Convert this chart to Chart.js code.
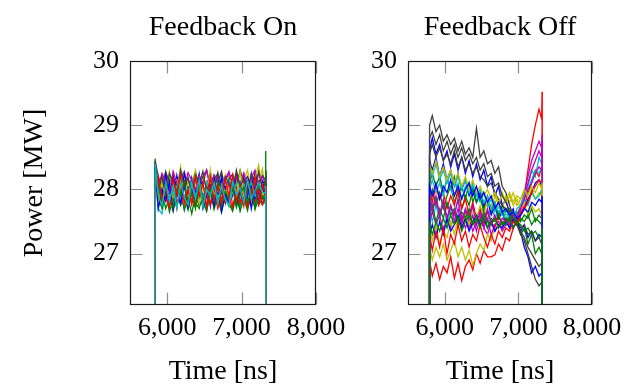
<!DOCTYPE html>
<html>
<head>
<meta charset="utf-8">
<script src="https://cdn.jsdelivr.net/npm/chart.js@4"></script>
<style>
  html, body { margin: 0; padding: 0; background: #fff; }
  #wrap { position: relative; width: 635px; height: 386px; overflow: hidden; }
  canvas { position: absolute; top: 0; }
  #cOn { left: 0; }
  #cOff { left: 318px; }
</style>
</head>
<body>
<div id="wrap">
  <canvas id="cOn" width="360" height="386"></canvas>
  <canvas id="cOff" width="317" height="386"></canvas>
</div>
<script>
// ---------------- DATA ----------------
const xTicks = [6000, 7000, 8000];
const yTicks = [27, 28, 29, 30];

// Feedback On: time samples [ns]
const timeOn = [5833, 5838, 5880, 5930, 5980, 6030, 6080, 6130, 6180, 6230, 6280, 6330, 6380, 6430, 6480, 6530, 6580, 6630, 6680, 6730, 6780, 6830, 6880, 6930, 6980, 7030, 7080, 7130, 7180, 7230, 7280, 7318, 7324, 7328];

const on1 = [25.6, 28.42, 27.78, 28.2, 27.9, 28.12, 27.75, 28.22, 27.92, 28.05, 27.8, 28.18, 27.95, 28.24, 27.82, 28.1, 27.74, 28.2, 27.9, 28.16, 27.8, 28.22, 27.96, 28.06, 27.76, 28.18, 27.88, 28.24, 27.82, 28.1, 27.92, 28.05, 28.2, 25.6];
const on2 = [25.6, 28.48, 27.72, 27.95, 27.7, 27.88, 27.66, 27.98, 27.75, 27.9, 27.68, 27.96, 27.8, 27.7, 27.92, 27.74, 28.0, 27.69, 27.9, 27.72, 27.97, 27.78, 27.66, 27.92, 27.7, 27.86, 27.67, 27.95, 27.74, 27.9, 27.8, 27.85, 28.6, 25.6];
const on3 = [25.6, 28.1, 27.85, 27.72, 28.05, 27.8, 27.95, 27.7, 28.1, 27.82, 27.74, 27.98, 27.78, 28.08, 27.72, 27.9, 27.76, 28.02, 27.7, 27.88, 27.8, 28.12, 27.74, 27.92, 27.78, 28.0, 27.72, 27.86, 28.06, 27.75, 27.9, 27.8, 28.0, 25.6];
const on4 = [25.6, 28.2, 27.7, 27.62, 27.98, 27.8, 28.05, 27.75, 27.95, 27.68, 28.02, 27.85, 27.72, 28.0, 27.8, 27.66, 27.95, 27.78, 28.04, 27.7, 27.9, 27.74, 28.0, 27.82, 27.68, 27.96, 27.76, 28.02, 27.72, 27.88, 27.8, 27.78, 28.0, 25.6];
const on5 = [25.6, 28.25, 28.15, 27.98, 28.25, 28.05, 28.2, 27.96, 28.18, 28.28, 28.0, 28.12, 28.22, 27.98, 28.15, 28.06, 28.26, 28.0, 28.2, 27.95, 28.14, 28.24, 28.02, 28.18, 27.97, 28.22, 28.08, 28.15, 27.99, 28.25, 28.1, 28.05, 28.15, 25.6];
const on6 = [25.6, 28.3, 27.8, 28.2, 28.0, 28.28, 27.9, 28.15, 28.05, 28.25, 27.85, 28.1, 28.3, 27.95, 28.18, 28.02, 28.22, 27.88, 28.12, 28.27, 27.98, 28.2, 28.05, 28.25, 27.92, 28.15, 28.3, 27.96, 28.2, 28.1, 28.32, 28.0, 28.2, 25.6];
const on7 = [25.6, 28.45, 28.2, 28.05, 28.28, 28.1, 28.22, 28.0, 28.3, 28.12, 28.18, 27.98, 28.26, 28.08, 28.2, 28.3, 28.02, 28.22, 28.1, 28.28, 28.0, 28.16, 28.24, 28.06, 28.3, 28.12, 28.2, 27.98, 28.25, 28.1, 28.22, 28.15, 28.3, 25.6];
const on8 = [25.6, 28.3, 28.1, 27.85, 28.22, 27.95, 28.18, 28.05, 27.82, 28.25, 28.0, 28.15, 27.88, 28.2, 28.05, 27.92, 28.24, 28.1, 27.86, 28.2, 28.02, 28.15, 27.9, 28.22, 28.08, 27.84, 28.18, 28.04, 28.24, 27.94, 28.12, 28.1, 28.2, 25.6];
const on9 = [25.6, 28.0, 27.9, 27.7, 27.95, 27.65, 27.85, 27.75, 27.98, 27.68, 27.88, 27.62, 27.92, 27.74, 27.84, 27.66, 27.96, 27.72, 27.88, 27.64, 27.9, 27.78, 27.7, 27.95, 27.66, 27.86, 27.72, 27.98, 27.7, 27.84, 27.76, 27.9, 28.1, 25.6];
const on10 = [25.6, 27.9, 27.95, 27.78, 27.88, 27.72, 28.02, 27.8, 27.92, 27.75, 27.98, 27.84, 27.73, 27.96, 27.82, 28.04, 27.76, 27.9, 27.74, 27.98, 27.8, 27.86, 27.72, 28.0, 27.78, 27.94, 27.74, 27.88, 27.8, 28.0, 27.76, 27.85, 27.95, 25.6];
const on11 = [25.6, 28.15, 27.95, 28.08, 27.88, 28.12, 27.92, 28.05, 27.86, 28.1, 27.98, 28.14, 27.9, 28.06, 27.85, 28.12, 27.96, 28.08, 27.88, 28.04, 27.92, 28.15, 27.94, 28.1, 27.87, 28.06, 27.95, 28.12, 27.9, 28.08, 27.98, 28.02, 28.1, 25.6];
const on12 = [25.6, 28.3, 28.05, 28.25, 28.12, 27.98, 28.28, 28.1, 28.2, 28.02, 28.26, 28.14, 28.0, 28.22, 28.08, 28.3, 28.04, 28.18, 28.24, 27.99, 28.16, 28.28, 28.06, 28.2, 28.1, 28.26, 28.0, 28.18, 28.3, 28.08, 28.2, 28.1, 28.25, 25.6];
const on13 = [25.6, 28.05, 27.75, 28.1, 27.85, 28.2, 27.72, 28.0, 28.35, 27.8, 28.15, 27.9, 28.25, 27.78, 28.05, 27.88, 28.3, 27.82, 28.1, 27.95, 28.22, 27.76, 28.08, 27.9, 28.28, 27.85, 28.12, 27.8, 28.18, 28.38, 27.92, 27.95, 28.15, 25.6];
const on14 = [25.6, 28.35, 28.0, 28.2, 27.9, 28.25, 28.1, 27.95, 28.3, 28.05, 28.18, 27.92, 28.22, 28.08, 28.28, 27.96, 28.15, 28.02, 28.26, 27.94, 28.2, 28.1, 27.98, 28.3, 28.04, 28.18, 27.95, 28.24, 28.06, 28.28, 28.0, 28.1, 28.3, 25.6];
const on15 = [25.6, 28.35, 27.7, 28.0, 27.82, 28.12, 27.68, 27.95, 27.78, 28.08, 27.72, 27.98, 27.85, 28.14, 27.7, 27.9, 28.05, 27.75, 28.1, 27.66, 27.92, 27.8, 28.15, 27.74, 27.96, 27.84, 28.1, 27.7, 28.02, 27.8, 28.12, 27.9, 28.1, 25.6];
const on16 = [25.6, 28.2, 28.05, 27.8, 28.1, 27.85, 27.72, 28.0, 27.9, 28.12, 27.78, 27.95, 27.7, 28.08, 27.88, 27.75, 28.02, 27.82, 28.1, 27.74, 27.96, 27.86, 28.06, 27.72, 27.92, 28.04, 27.8, 27.98, 27.7, 28.1, 27.85, 27.95, 28.3, 25.6];
const on17 = [25.6, 28.0, 28.2, 27.85, 28.05, 27.75, 28.15, 27.9, 28.22, 27.8, 28.0, 27.76, 28.18, 27.88, 28.1, 27.72, 28.2, 27.84, 28.05, 27.78, 28.16, 27.9, 28.22, 27.82, 28.02, 27.74, 28.15, 27.86, 28.2, 27.8, 28.08, 27.9, 28.05, 25.6];
const on18 = [25.6, 28.4, 27.9, 27.75, 28.1, 27.82, 28.05, 27.7, 28.12, 27.88, 27.76, 28.08, 27.85, 28.15, 27.72, 28.0, 27.9, 28.1, 27.78, 28.06, 27.84, 27.74, 28.12, 27.92, 28.02, 27.8, 28.14, 27.86, 27.98, 28.1, 27.95, 27.95, 28.05, 25.6];

// Feedback Off: time samples [ns]
const timeOff = [5788, 5793, 5830, 5880, 5930, 5980, 6030, 6080, 6130, 6180, 6230, 6280, 6330, 6380, 6430, 6480, 6530, 6580, 6630, 6680, 6730, 6780, 6830, 6880, 6930, 6980, 7030, 7080, 7130, 7180, 7230, 7280, 7316, 7321, 7324];

const off1 = [25.5, 28.6, 28.8, 28.55, 28.7, 28.45, 28.6, 28.35, 28.55, 28.3, 28.5, 28.25, 28.45, 28.2, 28.4, 28.15, 28.3, 28.05, 28.2, 27.9, 28.05, 27.75, 27.85, 27.6, 27.7, 27.45, 27.35, 27.1, 26.95, 26.7, 26.8, 26.65, 26.7, 26.9, 25.5];
const off2 = [25.5, 28.1, 28.25, 28.05, 28.2, 27.95, 28.15, 28.0, 28.2, 27.9, 28.05, 27.85, 28.1, 27.8, 27.95, 27.85, 27.7, 27.9, 27.65, 27.8, 27.55, 27.7, 27.5, 27.6, 27.4, 27.55, 27.3, 27.4, 27.15, 27.3, 27.0, 27.1, 27.0, 27.05, 25.5];
const off3 = [25.5, 26.9, 26.65, 26.85, 26.6, 26.8, 26.7, 26.95, 26.62, 26.85, 26.58, 26.8, 26.9, 26.75, 27.0, 26.85, 27.05, 26.95, 26.95, 26.98, 27.15, 27.05, 27.25, 27.2, 27.4, 27.5, 27.65, 27.9, 28.3, 28.7, 29.0, 29.25, 29.1, 29.52, 25.5];
const off4 = [25.5, 27.7, 27.5, 27.75, 27.55, 27.8, 27.45, 27.7, 27.6, 27.85, 27.5, 27.7, 27.55, 27.75, 27.45, 27.65, 27.7, 27.5, 27.75, 27.55, 27.65, 27.6, 27.7, 27.55, 27.65, 27.6, 27.75, 27.9, 28.05, 28.3, 28.2, 28.5, 28.4, 28.6, 25.5];
const off5 = [25.5, 27.95, 27.7, 27.9, 27.6, 27.85, 27.55, 27.75, 27.5, 27.7, 27.45, 27.65, 27.4, 27.6, 27.35, 27.55, 27.4, 27.3, 27.5, 27.35, 27.45, 27.4, 27.5, 27.45, 27.55, 27.6, 27.7, 27.95, 28.2, 28.45, 28.6, 28.75, 28.65, 28.85, 25.5];
const off6 = [25.5, 27.1, 26.9, 27.1, 26.95, 27.15, 26.9, 27.05, 27.2, 26.95, 27.1, 26.9, 27.05, 26.82, 27.0, 27.15, 27.05, 27.3, 27.2, 27.45, 27.5, 27.7, 27.9, 27.8, 27.95, 27.75, 27.85, 27.95, 27.8, 28.0, 27.85, 27.95, 27.9, 28.0, 25.5];
const off7 = [25.5, 29.0, 29.15, 28.9, 29.0, 28.75, 28.85, 28.7, 28.8, 28.6, 28.75, 28.55, 28.65, 28.5, 28.95, 28.5, 28.6, 28.4, 28.45, 28.25, 28.35, 28.05, 27.95, 27.75, 27.6, 27.45, 27.3, 27.2, 27.0, 26.8, 26.6, 26.5, 26.55, 26.6, 25.5];
const off8 = [25.5, 28.45, 28.3, 28.5, 28.2, 28.4, 28.15, 28.3, 28.05, 28.25, 28.0, 28.15, 27.9, 28.05, 27.8, 27.95, 27.75, 27.85, 27.6, 27.75, 27.55, 27.65, 27.45, 27.55, 27.4, 27.5, 27.35, 27.45, 27.25, 27.35, 27.2, 27.3, 27.25, 27.4, 25.5];
const off9 = [25.5, 27.8, 28.0, 27.75, 27.95, 27.7, 27.9, 28.05, 27.8, 27.95, 27.7, 27.9, 27.75, 28.0, 27.8, 27.9, 27.65, 27.85, 27.7, 27.8, 27.6, 27.75, 27.65, 27.7, 27.55, 27.65, 27.5, 27.6, 27.55, 27.7, 27.5, 27.6, 27.55, 27.65, 25.5];
const off10 = [25.5, 28.0, 27.8, 28.05, 27.85, 27.95, 27.7, 27.9, 27.75, 28.0, 27.7, 27.85, 27.6, 27.8, 27.55, 27.7, 27.45, 27.65, 27.5, 27.4, 27.6, 27.45, 27.55, 27.4, 27.5, 27.45, 27.6, 27.75, 27.95, 28.1, 28.3, 28.2, 28.35, 28.45, 25.5];
const off11 = [25.5, 28.0, 28.15, 27.95, 28.1, 27.9, 28.2, 28.0, 27.9, 28.1, 27.85, 28.05, 27.95, 28.1, 27.9, 27.8, 27.95, 27.75, 27.85, 27.65, 27.75, 27.6, 27.55, 27.65, 27.5, 27.6, 27.7, 27.85, 27.75, 27.95, 27.85, 27.9, 28.0, 27.9, 25.5];
const off12 = [25.5, 27.5, 27.65, 27.45, 27.6, 27.35, 27.55, 27.4, 27.65, 27.45, 27.6, 27.4, 27.55, 27.35, 27.5, 27.6, 27.4, 27.55, 27.3, 27.45, 27.5, 27.35, 27.45, 27.5, 27.4, 27.55, 27.75, 27.9, 28.1, 28.3, 28.45, 28.6, 28.5, 28.7, 25.5];
const off13 = [25.5, 27.4, 27.2, 27.45, 27.15, 27.35, 27.25, 27.5, 27.3, 27.55, 27.4, 27.6, 27.45, 27.7, 27.55, 27.75, 27.6, 27.85, 27.7, 27.9, 27.75, 27.95, 27.8, 27.9, 27.75, 27.85, 27.7, 27.8, 27.6, 27.75, 27.65, 27.7, 27.6, 27.7, 25.5];
const off14 = [25.5, 28.55, 28.7, 28.5, 28.65, 28.45, 28.55, 28.4, 28.6, 28.35, 28.5, 28.3, 28.4, 28.25, 28.35, 28.2, 28.15, 28.05, 28.1, 27.95, 27.85, 27.75, 27.7, 27.6, 27.5, 27.55, 27.4, 27.45, 27.3, 27.35, 27.2, 27.25, 27.15, 27.2, 25.5];
const off15 = [25.5, 27.3, 27.45, 27.25, 27.5, 27.3, 27.55, 27.35, 27.45, 27.6, 27.4, 27.55, 27.35, 27.5, 27.6, 27.45, 27.55, 27.4, 27.5, 27.35, 27.45, 27.4, 27.5, 27.4, 27.55, 27.45, 27.6, 27.7, 27.85, 27.95, 28.1, 28.15, 28.05, 28.2, 25.5];
const off16 = [25.5, 27.6, 27.75, 27.5, 27.7, 27.55, 27.8, 27.6, 27.7, 27.5, 27.65, 27.55, 27.7, 27.45, 27.6, 27.5, 27.65, 27.4, 27.55, 27.5, 27.6, 27.45, 27.55, 27.5, 27.6, 27.45, 27.55, 27.5, 27.6, 27.45, 27.55, 27.5, 27.45, 27.55, 25.5];
const off17 = [25.5, 27.3, 27.05, 27.35, 27.1, 27.4, 27.0, 27.3, 27.15, 27.45, 27.2, 27.35, 27.1, 27.3, 27.2, 27.45, 27.25, 27.1, 27.3, 27.15, 27.35, 27.25, 27.4, 27.35, 27.5, 27.45, 27.6, 27.7, 27.8, 27.95, 28.05, 28.15, 28.1, 28.25, 25.5];
const off18 = [25.5, 28.35, 28.2, 28.4, 28.15, 28.3, 28.1, 28.25, 28.05, 28.2, 28.0, 28.15, 27.95, 28.05, 27.9, 28.0, 27.8, 27.9, 27.7, 27.8, 27.65, 27.7, 27.6, 27.65, 27.55, 27.7, 27.75, 27.9, 28.0, 28.15, 28.3, 28.25, 28.35, 28.4, 25.5];
const off19 = [25.5, 27.8, 27.65, 27.85, 27.6, 27.8, 27.55, 27.75, 27.6, 27.85, 27.5, 27.7, 27.55, 27.75, 27.45, 27.65, 27.5, 27.7, 27.45, 27.6, 27.4, 27.55, 27.5, 27.45, 27.6, 27.55, 27.7, 27.85, 28.0, 28.1, 28.25, 28.35, 28.3, 28.45, 25.5];
const off20 = [25.5, 28.4, 28.25, 28.45, 28.2, 28.35, 28.15, 28.3, 28.1, 28.25, 28.05, 28.2, 28.0, 28.15, 27.95, 28.05, 27.9, 28.0, 27.85, 27.95, 27.8, 27.9, 27.85, 27.95, 27.8, 27.9, 27.85, 28.0, 27.9, 28.05, 27.95, 28.1, 28.0, 28.1, 25.5];
const off21 = [25.5, 28.8, 28.9, 28.7, 28.85, 28.6, 28.75, 28.55, 28.7, 28.5, 28.65, 28.45, 28.55, 28.4, 28.5, 28.3, 28.4, 28.2, 28.25, 28.05, 28.1, 27.9, 27.8, 27.65, 27.55, 27.45, 27.35, 27.25, 27.1, 27.0, 26.9, 26.8, 26.85, 26.9, 25.5];
const off22 = [25.5, 28.05, 27.9, 28.1, 27.85, 28.05, 27.95, 28.15, 27.9, 28.05, 27.85, 28.0, 28.1, 27.9, 28.05, 27.85, 27.95, 27.8, 27.9, 27.7, 27.8, 27.65, 27.7, 27.6, 27.65, 27.55, 27.6, 27.7, 27.65, 27.8, 27.75, 27.85, 27.8, 27.9, 25.5];
const off23 = [25.5, 27.45, 27.3, 27.5, 27.35, 27.55, 27.4, 27.6, 27.45, 27.55, 27.35, 27.5, 27.6, 27.45, 27.55, 27.4, 27.6, 27.5, 27.45, 27.55, 27.4, 27.5, 27.45, 27.55, 27.4, 27.5, 27.45, 27.35, 27.4, 27.3, 27.35, 27.25, 27.3, 27.4, 25.5];

const onSeries = [on1, on2, on3, on4, on5, on6, on7, on8, on9, on10, on11, on12, on13, on14, on15, on16, on17, on18];
const offSeries = [off1, off2, off3, off4, off5, off6, off7, off8, off9, off10, off11, off12, off13, off14, off15, off16, off17, off18, off19, off20, off21, off22, off23];

// ---------------- STYLE ----------------
const palette = ['#0000ff', '#008000', '#ff0000', '#00bfbf', '#bf00bf', '#bfbf00', '#404040'];
const FONT = "'Liberation Serif', 'DejaVu Serif', serif";

const framePlugin = {
  id: 'frame',
  afterDatasetsDraw(chart) {
    const { ctx, chartArea: a, scales: { x, y } } = chart;
    const L = Math.round(a.left) + 0.5, R = Math.round(a.right) - 0.5;
    const T = Math.round(a.top) + 0.5, B = Math.round(a.bottom) - 0.5;
    const len = 12;
    ctx.save();
    ctx.strokeStyle = '#8c8c8c';
    ctx.lineWidth = 1.2;
    ctx.beginPath();
    x.ticks.forEach(t => {
      const px = Math.round(x.getPixelForValue(t.value)) + 0.5;
      ctx.moveTo(px, B); ctx.lineTo(px, B - len);
      ctx.moveTo(px, T); ctx.lineTo(px, T + len);
    });
    y.ticks.forEach(t => {
      const py = Math.round(y.getPixelForValue(t.value)) + 0.5;
      ctx.moveTo(L, py); ctx.lineTo(L + len, py);
      ctx.moveTo(R, py); ctx.lineTo(R - len, py);
    });
    ctx.stroke();
    ctx.strokeStyle = '#1a1a1a';
    ctx.lineWidth = 1.2;
    ctx.strokeRect(L, T, R - L, B - T);
    ctx.restore();
  }
};

function makeChart(canvasId, title, times, seriesList, yWidth, padRight, showYTitle) {
  const datasets = seriesList.map((s, i) => ({
    data: times.map((t, k) => ({ x: t, y: s[k] })),
    borderColor: palette[i % palette.length],
    borderWidth: 1.3,
    pointRadius: 0,
    tension: 0,
    fill: false,
    order: seriesList.length - i
  }));
  const tickFont = { family: FONT, size: 26 };
  return new Chart(document.getElementById(canvasId), {
    type: 'line',
    data: { datasets },
    plugins: [framePlugin],
    options: {
      responsive: false,
      animation: false,
      devicePixelRatio: 1,
      events: [],
      layout: { padding: { left: 0, right: padRight, top: 0, bottom: 0 } },
      plugins: {
        legend: { display: false },
        tooltip: { enabled: false },
        title: {
          display: true,
          text: title,
          fullSize: false,
          color: '#000',
          font: { family: FONT, size: 28, weight: 'normal', lineHeight: 1.2 },
          padding: { top: 11, bottom: 16.4 }
        }
      },
      scales: {
        x: {
          type: 'linear',
          min: 5500,
          max: 8000,
          afterBuildTicks: s => { s.ticks = xTicks.map(v => ({ value: v })); },
          afterFit: s => { s.height = 81; s.paddingLeft = 0; s.paddingRight = 0; },
          grid: { display: false, drawTicks: false },
          border: { display: false },
          ticks: { font: tickFont, color: '#000', padding: 8, maxRotation: 0, autoSkip: false },
          title: { display: true, text: 'Time [ns]', color: '#000', font: { family: FONT, size: 28, lineHeight: 1.0 }, padding: { top: 0, bottom: 0 } }
        },
        y: {
          type: 'linear',
          min: 26.2,
          max: 30,
          afterBuildTicks: s => { s.ticks = yTicks.map(v => ({ value: v })); },
          afterFit: s => { s.width = yWidth; s.paddingTop = 0; s.paddingBottom = 0; },
          grid: { display: false, drawTicks: false },
          border: { display: false },
          ticks: { font: tickFont, color: '#000', padding: 11, autoSkip: false },
          title: { display: showYTitle, text: 'Power [MW]', color: '#000', font: { family: FONT, size: 28, lineHeight: 1.2 }, padding: { top: 18, bottom: 0 } }
        }
      }
    }
  });
}

makeChart('cOn', 'Feedback On', timeOn, onSeries, 130, 44, true);
makeChart('cOff', 'Feedback Off', timeOff, offSeries, 90, 43, false);
</script>
</body>
</html>
